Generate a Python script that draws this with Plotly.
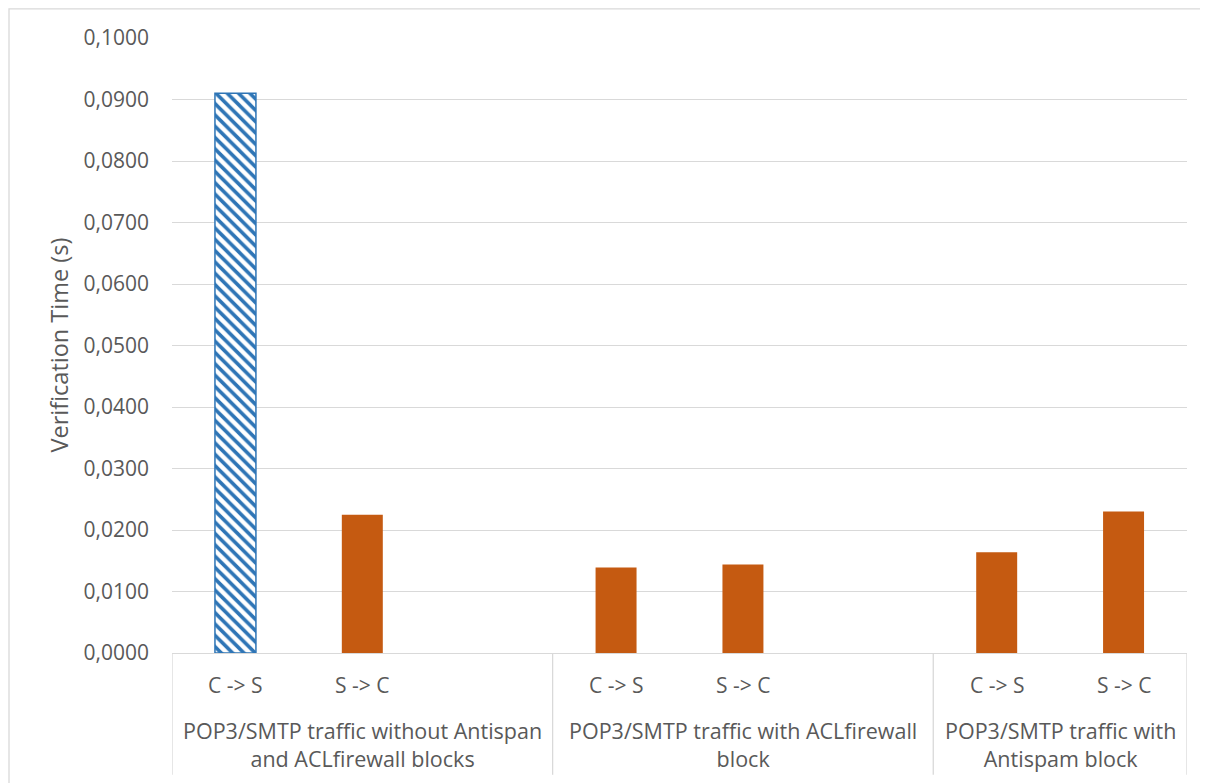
import plotly.graph_objects as go

# ---- data ----
groups = [
    "POP3/SMTP traffic without Antispan<br>and ACLfirewall blocks",
    "POP3/SMTP traffic with ACLfirewall<br>block",
    "POP3/SMTP traffic with<br>Antispam block",
]
slot_group = [0, 0, 0, 1, 1, 1, 2, 2]
slot_labels = ["C -> S", "S -> C", "", "C -> S", "S -> C", "", "C -> S", "S -> C"]
values = [0.0910, 0.0225, None, 0.0139, 0.0144, None, 0.0164, 0.0230]
highlight = [0]  # slot drawn with hatched blue pattern
y_ticks = [0.0, 0.01, 0.02, 0.03, 0.04, 0.05, 0.06, 0.07, 0.08, 0.09, 0.10]
y_title = "Verification Time (s)"

BLUE = "#2E75B6"
ORANGE = "#C55A11"
GRID = "#D9D9D9"
TXT = "#595959"
FONT = "Open Sans"

slots = list(range(len(values)))
hx = [s for s in slots if s in highlight and values[s] is not None]
ox = [s for s in slots if s not in highlight and values[s] is not None]

fig = go.Figure()
fig.add_trace(go.Bar(
    x=hx, y=[values[s] for s in hx], width=0.323,
    marker=dict(color="white", line=dict(color=BLUE, width=1.5),
                pattern=dict(shape="\\", fgcolor=BLUE, bgcolor="white",
                             size=8, solidity=0.45, fillmode="replace")),
    showlegend=False, hoverinfo="y",
))
fig.add_trace(go.Bar(
    x=ox, y=[values[s] for s in ox], width=0.323,
    marker=dict(color=ORANGE, line=dict(width=0)),
    showlegend=False, hoverinfo="y",
))

ann = []
# inner labels
for s, lab in zip(slots, slot_labels):
    if lab:
        ann.append(dict(x=s, y=-0.052, xref="x", yref="paper", text=lab,
                        showarrow=False, yanchor="middle", xanchor="center",
                        font=dict(family=FONT, size=21, color=TXT)))
# outer group labels & dividers
bounds = []
for g, name in enumerate(groups):
    members = [s for s in slots if slot_group[s] == g]
    lo, hi = min(members) - 0.5, max(members) + 0.5
    bounds += [lo, hi]
    ann.append(dict(x=(lo + hi) / 2, y=-0.149, xref="x", yref="paper", text=name,
                    showarrow=False, yanchor="middle", xanchor="center",
                    font=dict(family=FONT, size=21.5, color=TXT)))
ann.append(dict(x=-0.1123, y=0.5, xref="paper", yref="paper", text=y_title,
                textangle=-90, showarrow=False, xanchor="center", yanchor="middle",
                font=dict(family=FONT, size=23.5, color=TXT)))

shapes = []
for b in sorted(set(bounds)):
    shapes.append(dict(type="line", xref="x", yref="paper", x0=b, x1=b,
                       y0=0, y1=-0.198, line=dict(color=GRID, width=1.3)))
# chart area border
shapes.append(dict(type="rect", xref="paper", yref="paper", x0=-0.1606, x1=1.03,
                   y0=-0.25, y1=1.0472, line=dict(color=GRID, width=1.3),
                   fillcolor="rgba(0,0,0,0)", layer="below"))

fig.update_layout(
    width=1200, height=775,
    margin=dict(l=164, r=21, t=30, b=130, autoexpand=False),
    paper_bgcolor="white", plot_bgcolor="white",
    separators=",.",
    barmode="overlay",
    annotations=ann, shapes=shapes,
    xaxis=dict(range=[-0.5, len(values) - 0.5], showticklabels=False,
               showgrid=False, zeroline=False, showline=True, linecolor=GRID,
               linewidth=1.3, ticks="", fixedrange=True),
    yaxis=dict(range=[0, 0.1], tickvals=y_ticks, tickformat=".4f",
               showgrid=True, gridcolor=GRID, gridwidth=1.3, zeroline=False,
               showline=False, ticks="", ticklabelstandoff=22,
               tickfont=dict(family=FONT, size=21, color=TXT), fixedrange=True),
)

fig.write_html("out.html")
